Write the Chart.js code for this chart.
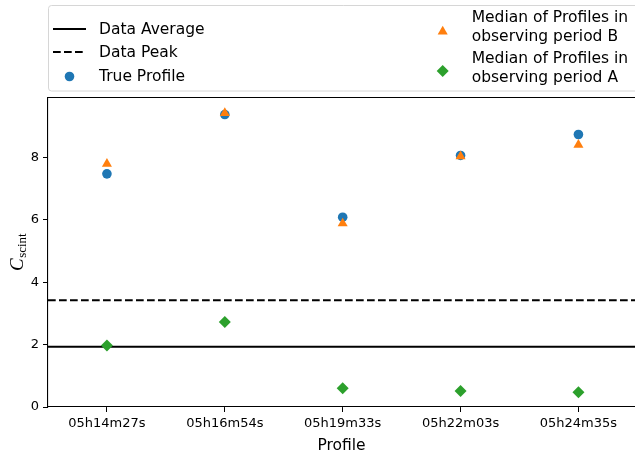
<!DOCTYPE html>
<html>
<head>
<meta charset="utf-8">
<script src="https://cdn.jsdelivr.net/npm/chart.js@4.4.0/dist/chart.umd.min.js"></script>
<style>
  html, body { margin: 0; padding: 0; background: #fff; }
  #wrap { width: 635px; height: 453px; }
</style>
</head>
<body>
<div id="wrap"><canvas id="chart" width="635" height="453"></canvas></div>
<script>
// data
const profiles = ['05h14m27s', '05h16m54s', '05h19m33s', '05h22m03s', '05h24m35s'];
const trueProfile = [7.47, 9.37, 6.08, 8.06, 8.73];
const medianB = [7.79, 9.42, 5.88, 8.03, 8.40];
const medianA = [1.97, 2.72, 0.60, 0.51, 0.47];
const dataAverage = 1.93;
const dataPeak = 3.42;
const yTicks = [0, 2, 4, 6, 8];
const xMin = -0.5, xMax = 4.48;
const yMin = 0, yMax = 9.9;

const BLUE = '#1f77b4', ORANGE = '#ff7f0e', GREEN = '#2ca02c';
const FONT = "'DejaVu Sans', sans-serif";

const pts = arr => arr.map((v, i) => ({ x: i, y: v }));
const hline = v => [{ x: xMin, y: v }, { x: xMax, y: v }];

function circle(ctx, x, y, r) {
    ctx.beginPath();
    ctx.arc(x, y, r, 0, Math.PI * 2);
    ctx.fill();
}
function triangle(ctx, x, y, r) {
    ctx.beginPath();
    ctx.moveTo(x, y - r);
    ctx.lineTo(x + r * 0.866, y + r / 2);
    ctx.lineTo(x - r * 0.866, y + r / 2);
    ctx.closePath();
    ctx.fill();
}
function diamond(ctx, x, y, r) {
    ctx.beginPath();
    ctx.moveTo(x, y - r);
    ctx.lineTo(x + r, y);
    ctx.lineTo(x, y + r);
    ctx.lineTo(x - r, y);
    ctx.closePath();
    ctx.fill();
}

// frame top edge, y title with subscript, legend box
const extras = {
    id: 'extras',
    afterDraw(chart) {
        const ctx = chart.ctx;
        const a = chart.chartArea;
        ctx.save();

        ctx.strokeStyle = '#000';
        ctx.lineWidth = 1.2;
        ctx.beginPath();
        ctx.moveTo(a.left, a.top - 0.5);
        ctx.lineTo(a.right, a.top - 0.5);
        ctx.stroke();

        // y axis title C_scint
        ctx.save();
        ctx.translate(22.5, 271);
        ctx.rotate(-Math.PI / 2);
        ctx.fillStyle = '#000';
        ctx.textBaseline = 'alphabetic';
        ctx.font = "italic 19px 'Liberation Serif', serif";
        ctx.fillText('C', 0, 0);
        const wC = ctx.measureText('C').width;
        ctx.font = "13px 'Liberation Serif', serif";
        ctx.fillText('scint', wC + 0.5, 3);
        ctx.restore();

        // legend
        ctx.fillStyle = 'rgba(255,255,255,0.8)';
        ctx.strokeStyle = '#d6d6d6';
        ctx.lineWidth = 1;
        ctx.beginPath();
        ctx.roundRect(48.5, 5.5, 600, 85.5, 3);
        ctx.fill();
        ctx.stroke();

        ctx.strokeStyle = '#000';
        ctx.lineWidth = 2;
        ctx.beginPath();
        ctx.moveTo(53, 29); ctx.lineTo(86, 29);
        ctx.stroke();
        ctx.setLineDash([7.7, 3.3]);
        ctx.beginPath();
        ctx.moveTo(53, 52); ctx.lineTo(86, 52);
        ctx.stroke();
        ctx.setLineDash([]);

        ctx.fillStyle = BLUE;
        circle(ctx, 69.5, 76.5, 4.8);
        ctx.fillStyle = ORANGE;
        triangle(ctx, 442.7, 31.5, 5.8);
        ctx.fillStyle = GREEN;
        diamond(ctx, 442.7, 71, 6);

        ctx.fillStyle = '#000';
        ctx.font = '15.5px ' + FONT;
        ctx.textBaseline = 'alphabetic';
        ctx.fillText('Data Average', 99, 34.3);
        ctx.fillText('Data Peak', 99, 56.7);
        ctx.fillText('True Profile', 99, 81);
        ctx.fillText('Median of Profiles in', 471.7, 21.7);
        ctx.fillText('observing period B', 471.7, 40.7);
        ctx.fillText('Median of Profiles in', 471.7, 62.7);
        ctx.fillText('observing period A', 471.7, 82.3);
        ctx.restore();
    }
};

const ctx = document.getElementById('chart').getContext('2d');
new Chart(ctx, {
    type: 'scatter',
    data: {
        datasets: [
            { label: 'Median of Profiles in observing period A', data: pts(medianA), order: 0,
              backgroundColor: GREEN, pointStyle: 'rectRot', pointRadius: 6, pointBorderWidth: 0 },
            { label: 'Median of Profiles in observing period B', data: pts(medianB), order: 1,
              backgroundColor: ORANGE, pointStyle: 'triangle', pointRadius: 5.8, pointBorderWidth: 0 },
            { label: 'True Profile', data: pts(trueProfile), order: 2,
              backgroundColor: BLUE, pointStyle: 'circle', pointRadius: 4.8, pointBorderWidth: 0 },
            { label: 'Data Average', data: hline(dataAverage), order: 3, showLine: true,
              borderColor: '#000', borderWidth: 2, pointRadius: 0 },
            { label: 'Data Peak', data: hline(dataPeak), order: 4, showLine: true,
              borderColor: '#000', borderWidth: 2, borderDash: [7.7, 3.3], pointRadius: 0 }
        ]
    },
    options: {
        responsive: false,
        animation: false,
        layout: { autoPadding: false, padding: { top: 98, right: 0, left: 0, bottom: 0 } },
        plugins: { legend: { display: false }, tooltip: { enabled: false } },
        scales: {
            x: {
                type: 'linear', min: xMin, max: xMax,
                afterBuildTicks: s => { s.ticks = profiles.map((_, i) => ({ value: i })); },
                afterFit: s => { s.height = 46; s.paddingLeft = 0; s.paddingRight = 0; },
                ticks: { callback: v => profiles[v], color: '#000', font: { family: FONT, size: 13 },
                         padding: 4, maxRotation: 0, autoSkip: false },
                grid: { drawOnChartArea: false, tickLength: 5, tickColor: '#000', tickWidth: 1 },
                border: { color: '#000', width: 1.1 },
                title: { display: true, text: 'Profile', color: '#000',
                         font: { family: FONT, size: 15.5 }, padding: { top: 0, bottom: -2 } }
            },
            y: {
                min: yMin, max: yMax,
                afterBuildTicks: s => { s.ticks = yTicks.map(v => ({ value: v })); },
                afterFit: s => { s.width = 48; s.paddingTop = 0; s.paddingBottom = 0; },
                ticks: { color: '#000', font: { family: FONT, size: 13 }, padding: 4 },
                grid: { drawOnChartArea: false, tickLength: 5, tickColor: '#000', tickWidth: 1 },
                border: { color: '#000', width: 1.1 }
            }
        }
    },
    plugins: [extras]
});
</script>
</body>
</html>
